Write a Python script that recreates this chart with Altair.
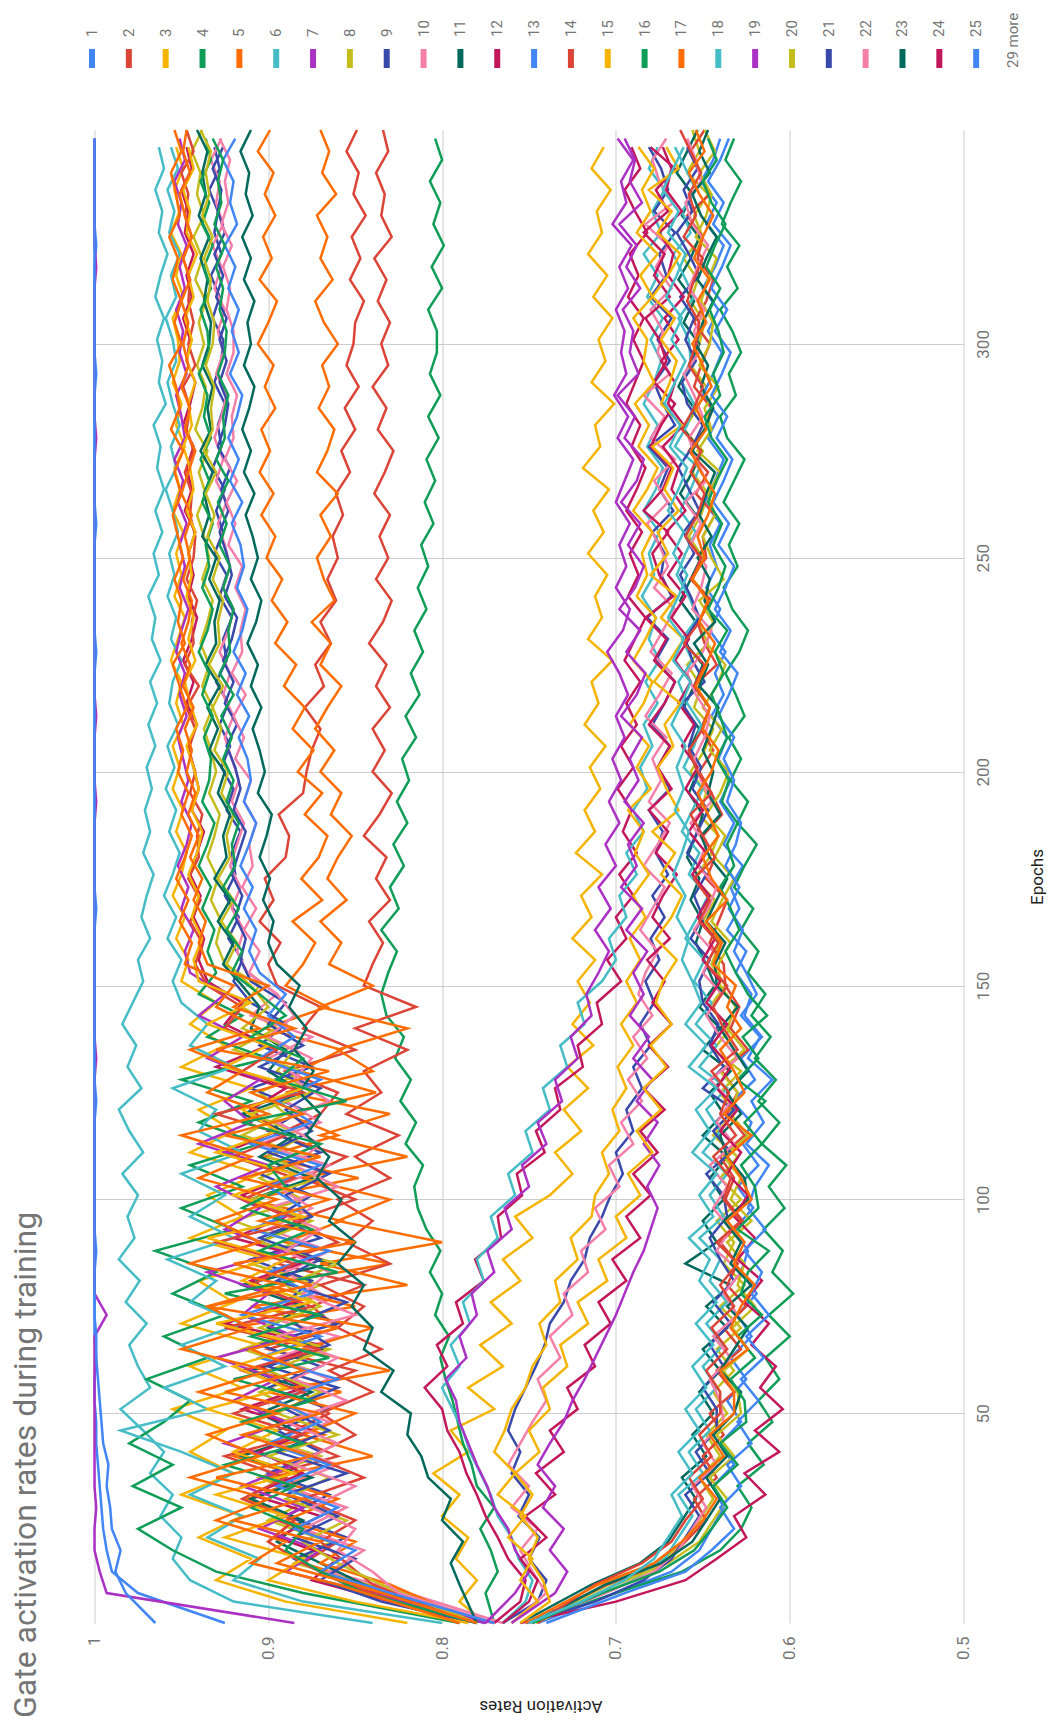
import altair as alt
import pandas as pd

TITLE = "Gate activation rates during training"
X_TITLE = "Activation Rates"
Y_TITLE = "Epochs"
PALETTE = ["#4285F4", "#DB4437", "#F4B400", "#0F9D58", "#FF6D00", "#46BDC6",
           "#AB30C4", "#C5BC1E", "#3949AB", "#F47FA8", "#00695C", "#C2185B"]
RATE_TICKS = [0.5, 0.6, 0.7, 0.8, 0.9, 1.0]
EPOCH_TICKS = [50, 100, 150, 200, 250, 300]
LEGEND_SHOWN = 25
MORE_LABEL = "29 more"

# sampling grid of the epochs (first point is epoch 1), shifted a little per series
BASE_EPOCHS = [1] + [1 + 5 * j for j in range(1, 70)]
GRID_SHIFT = [0, 2, 4]

# activation rates in thousandths (7 groups of 10 points)
S01 = "925 975 990 993 995 996 997 998 999 999 | 1000 1000 999 1000 1000 1000 1000 999 1000 1000 | 1000 1000 1000 1000 999 1000 1000 1000 1000 1000 | 1000 1000 1000 999 1000 1000 1000 1000 1000 1000 | 1000 1000 1000 1000 1000 999 1000 1000 1000 1000 | 1000 999 1000 1000 1000 1000 1000 1000 999 1000 | 1000 1000 1000 1000 999 1000 1000 1000 1000 1000"
S02 = "790 850 880 860 895 870 905 860 890 865 | 880 850 900 860 875 845 895 860 885 850 | 880 855 895 870 860 890 850 880 870 895 | 900 893 905 897 902 890 888 894 880 878 | 875 870 879 868 873 864 870 861 866 860 | 863 857 861 853 858 850 856 848 855 851 | 850 845 853 847 852 844 851 848 855 849"
S03 = "775 790 780 792 785 800 790 805 785 795 | 770 785 765 778 760 772 755 765 748 758 | 738 725 735 720 730 716 728 713 725 715 | 722 712 725 714 720 708 723 712 718 709 | 715 706 718 710 714 702 716 708 712 705 | 716 707 713 704 719 709 712 701 714 706 | 710 702 713 705 716 708 711 703 714 707"
S04 = "770 775 768 772 778 770 780 783 788 791 | 794 798 801 796 804 800 807 801 809 814 | 816 811 821 815 824 818 827 822 832 835 | 831 826 835 825 830 822 828 820 826 819 | 823 815 821 813 818 811 816 809 814 808 | 812 805 810 804 809 802 808 801 807 803 | 803 808 800 806 799 805 801 807 800 804"
S05 = "780 840 880 900 885 912 878 920 868 902 | 858 910 868 921 850 902 830 890 858 912 | 848 902 860 890 838 882 858 902 866 890 | 880 873 886 869 881 871 866 879 869 883 | 874 886 879 891 884 896 889 898 892 901 | 896 904 897 905 899 904 896 902 897 906 | 900 895 905 898 903 896 902 897 906 899"
S06 = "840 920 945 955 950 962 955 968 960 972 | 985 968 975 980 970 982 974 986 977 981 | 975 984 972 980 986 973 981 976 984 978 | 972 975 968 973 970 966 972 968 971 967 | 970 965 969 964 968 962 967 965 969 963 | 966 961 965 960 964 962 966 959 963 961 | 964 960 965 962 958 963 961 965 960 963"
S07 = "885 993 997 1000 1000 999 1000 1000 1000 1000 | 1000 1000 1000 1000 993 1000 1000 1000 1000 1000 | 1000 1000 1000 1000 1000 1000 999 1000 1000 1000 | 1000 1000 1000 1000 1000 1000 1000 1000 999 1000 | 1000 1000 999 1000 1000 1000 1000 1000 1000 1000 | 1000 1000 1000 1000 1000 999 1000 1000 1000 1000 | 1000 1000 1000 999 1000 1000 1000 1000 1000 1000"
S08 = "780 840 885 865 900 875 905 870 910 880 | 905 875 915 880 900 870 910 885 920 880 | 905 875 915 890 905 880 920 895 915 905 | 925 930 927 933 929 935 931 928 934 930 | 933 937 932 938 934 939 935 932 938 934 | 937 941 936 940 935 942 938 936 941 937 | 940 936 942 938 943 937 941 939 944 938"
S09 = "775 830 860 885 855 890 865 900 870 895 | 865 900 870 905 860 890 875 910 870 895 | 875 905 870 900 880 910 875 905 890 910 | 920 915 923 917 925 919 921 916 924 920 | 927 922 928 923 930 924 926 921 928 924 | 931 926 930 925 932 927 929 925 931 927 | 926 932 928 933 927 931 929 934 928 931"
S10 = "765 820 865 845 880 855 890 860 895 865 | 900 865 895 860 905 870 890 865 900 875 | 895 865 905 870 890 880 900 875 910 895 | 912 918 914 921 916 922 918 914 921 917 | 921 925 920 926 922 928 923 920 926 922 | 925 929 924 930 926 931 927 924 930 926 | 929 925 931 927 932 926 930 928 933 927"
S11 = "785 845 870 895 880 910 875 915 880 905 | 875 910 870 900 880 915 865 905 880 910 | 875 905 885 915 880 900 890 910 905 915 | 926 920 929 922 931 924 926 922 929 925 | 934 929 935 928 936 930 931 928 934 930 | 938 934 937 932 939 933 935 932 938 934 | 933 937 935 939 934 940 936 938 935 941"
S12 = "770 830 875 860 895 870 910 880 905 875 | 915 880 905 870 925 885 910 875 920 890 | 915 885 925 895 910 890 930 900 925 915 | 935 940 937 943 939 945 941 937 944 940 | 943 946 941 947 943 949 944 941 946 943 | 946 942 948 944 947 943 949 945 942 947 | 945 949 944 947 943 948 946 950 944 947"
S13 = "965 982 988 985 990 991 993 992 995 996 | 997 998 999 999 1000 1000 1000 1000 1000 1000 | 1000 1000 1000 1000 1000 1000 1000 1000 1000 1000 | 1000 1000 1000 1000 1000 1000 1000 1000 1000 1000 | 1000 1000 1000 1000 1000 1000 1000 1000 1000 1000 | 1000 1000 1000 1000 1000 1000 1000 1000 1000 1000 | 1000 1000 1000 1000 1000 1000 1000 1000 1000 1000"
S14 = "785 840 855 870 850 880 845 875 850 870 | 840 865 835 860 845 870 830 855 840 860 | 830 850 825 855 835 845 820 850 815 845 | 840 834 842 830 838 832 845 836 829 840 | 833 840 830 838 832 842 834 829 838 831 | 836 830 839 833 828 837 832 840 831 835 | 830 837 832 839 829 835 833 838 831 834"
S15 = "820 890 930 910 940 915 950 920 945 925 | 955 915 945 905 950 920 940 900 945 915 | 935 905 945 920 940 910 950 925 945 930 | 950 946 953 948 955 950 947 953 949 955 | 951 955 949 953 950 956 952 948 954 950 | 953 949 955 951 954 948 953 950 955 951 | 952 955 949 953 950 956 951 954 949 953"
S16 = "790 880 930 955 975 950 978 955 980 960 | 945 970 935 960 925 955 930 965 920 950 | 915 945 905 940 910 950 900 935 915 940 | 930 935 931 938 933 940 935 931 938 934 | 933 937 932 938 934 940 935 932 938 934 | 936 932 938 934 939 933 937 935 940 934 | 935 939 933 937 932 938 934 939 933 936"
S17 = "780 830 870 850 890 860 900 840 880 850 | 900 830 880 840 910 820 870 800 860 830 | 880 820 870 830 890 840 860 820 870 840 | 865 858 870 855 866 860 852 864 858 870 | 862 873 866 858 870 864 875 862 868 872 | 864 870 860 872 866 862 871 865 869 860 | 868 873 863 870 866 872 861 869 865 870"
S18 = "800 880 920 905 935 915 945 920 950 985 | 935 960 925 950 915 945 930 958 920 945 | 925 950 915 940 930 955 920 945 935 950 | 955 950 958 953 960 955 951 957 953 959 | 954 958 952 957 955 950 956 953 958 954 | 957 952 955 959 953 956 951 955 958 953 | 955 959 953 956 951 957 954 958 952 956"
S19 = "775 840 890 870 905 880 915 885 925 890 | 920 895 930 885 915 900 935 890 925 905 | 930 900 940 910 925 905 935 915 940 925 | 945 948 943 950 946 952 947 944 950 946 | 949 952 947 951 948 953 950 946 951 948 | 951 947 952 949 954 948 950 953 947 951 | 949 953 948 951 947 952 950 954 948 951"
S20 = "780 835 860 880 855 890 865 900 860 895 | 870 900 865 905 870 890 860 905 875 910 | 870 900 880 910 875 895 885 915 900 910 | 924 918 927 920 929 922 924 920 927 923 | 931 927 932 926 934 928 929 926 932 928 | 935 931 936 930 937 932 933 931 936 932 | 931 935 933 937 932 938 934 936 933 939"
S21 = "780 835 870 850 885 860 890 855 895 865 | 890 860 900 865 885 855 895 870 905 875 | 890 865 900 875 890 870 905 880 900 890 | 910 916 913 919 915 921 917 913 920 916 | 919 924 918 925 920 926 921 918 925 921 | 924 928 923 927 922 929 925 923 928 924 | 928 924 930 926 931 925 929 927 932 926"
S22 = "770 825 840 860 850 875 850 885 860 890 | 855 885 860 895 850 880 865 890 870 900 | 860 885 870 895 865 885 875 900 885 895 | 911 905 914 907 915 909 911 907 914 910 | 919 914 920 913 921 915 916 913 919 915 | 923 919 924 918 925 920 921 918 924 920 | 920 924 922 926 921 927 923 925 922 928"
S23 = "780 790 795 788 800 795 808 812 820 818 | 835 828 845 840 852 845 860 850 865 858 | 872 865 878 870 882 874 885 878 888 882 | 895 900 897 903 899 905 901 898 906 902 | 905 909 904 910 906 912 907 904 910 906 | 909 913 908 914 910 915 911 908 914 910 | 912 908 914 910 915 909 913 911 916 910"
S24 = "770 755 752 762 768 775 780 786 790 797 | 800 810 797 803 788 792 776 781 766 768 | 754 757 741 746 732 735 719 722 708 711 | 697 705 694 700 690 698 688 696 691 699 | 690 697 688 694 686 695 689 683 693 687 | 692 685 694 688 683 691 686 694 689 684 | 690 684 693 687 692 682 689 695 686 691"
S25 = "770 830 870 850 885 860 895 865 900 870 | 895 860 905 870 915 875 900 865 910 880 | 900 870 910 875 895 870 905 885 900 890 | 905 911 907 914 909 916 911 907 914 910 | 912 917 911 918 913 920 915 912 918 914 | 916 921 915 922 917 923 918 915 922 917 | 921 917 923 919 925 918 922 920 926 919"
S26 = "790 855 880 900 885 915 890 925 880 920 | 880 915 870 925 875 910 885 930 880 915 | 885 920 890 930 880 915 895 925 915 935 | 942 938 945 939 946 940 941 938 945 942 | 946 942 947 940 948 943 944 941 947 943 | 942 945 944 948 943 947 945 949 942 946 | 943 946 945 949 944 948 946 950 943 947"
S27 = "785 850 900 880 925 890 930 885 920 895 | 935 890 920 880 930 875 915 890 935 880 | 920 885 930 895 915 880 925 900 935 910 | 940 943 938 944 940 946 941 938 944 940 | 943 947 941 945 948 942 946 943 947 944 | 946 942 947 943 945 949 944 946 942 947 | 944 948 943 946 941 947 945 949 943 946"
S28 = "780 845 870 890 880 910 885 925 880 915 | 875 920 865 910 870 925 860 905 875 915 | 890 900 870 915 855 895 880 910 890 905 | 921 915 924 917 926 919 921 917 924 920 | 926 921 927 920 928 922 923 920 926 922 | 928 924 929 923 930 925 926 923 929 925 | 924 928 926 930 925 931 927 929 926 932"
S29 = "790 860 910 890 930 900 945 905 935 895 | 940 900 950 910 935 890 945 905 930 895 | 940 910 950 900 935 915 945 905 930 920 | 948 944 951 946 953 948 944 950 946 952 | 949 953 947 951 955 948 952 950 954 949 | 952 955 950 954 949 956 951 953 957 950 | 954 950 955 952 957 951 953 956 950 954"
S30 = "765 752 748 756 760 768 772 778 784 788 | 794 800 790 795 784 788 776 780 768 772 | 758 762 748 752 738 742 728 732 718 722 | 708 700 704 694 698 688 694 684 690 682 | 686 679 684 676 683 675 681 677 685 678 | 681 675 684 677 673 682 676 684 678 674 | 680 673 682 676 684 674 679 672 681 676"
S31 = "775 758 750 758 762 770 774 780 785 790 | 792 798 786 790 780 783 770 774 760 764 | 750 754 740 745 731 735 722 726 714 717 | 710 704 712 703 710 700 706 698 704 697 | 702 695 700 693 698 705 696 692 700 694 | 698 692 700 695 690 699 693 701 694 697 | 695 700 693 698 691 702 694 697 690 699"
S32 = "748 704 676 660 652 644 652 640 648 636 | 644 632 642 628 640 626 638 632 642 628 | 640 630 644 632 640 628 644 634 646 637 | 645 640 650 643 655 646 641 652 648 657 | 649 644 655 651 659 647 653 645 656 650 | 658 651 647 656 650 661 653 648 657 652 | 649 657 653 661 650 655 647 659 652 656"
S33 = "765 745 740 750 744 756 750 760 755 762 | 758 752 746 741 738 730 726 718 715 708 | 703 696 700 690 694 685 690 680 686 678 | 683 675 680 672 679 670 677 673 681 669 | 676 669 679 672 666 677 670 682 668 674 | 672 679 667 675 670 681 666 673 678 669 | 676 668 680 671 675 666 678 670 674 681"
S34 = "760 740 748 755 745 760 750 762 755 748 | 740 745 732 738 725 730 716 720 706 712 | 698 704 690 697 685 693 682 690 679 687 | 683 676 686 679 672 684 676 669 681 674 | 679 671 683 675 668 680 673 666 678 670 | 675 682 670 678 666 680 672 684 669 676 | 673 680 668 677 670 683 667 675 679 671"
S35 = "755 714 686 670 662 654 662 648 656 644 | 652 640 650 636 648 634 660 642 650 638 | 646 636 650 638 646 634 650 640 652 643 | 648 654 650 657 652 659 654 650 658 653 | 658 652 661 655 650 660 654 663 657 651 | 660 654 663 656 651 661 655 664 658 652 | 661 655 664 657 652 662 656 665 659 653"
S36 = "765 750 745 755 740 752 735 746 730 738 | 722 728 712 718 703 710 694 702 686 694 | 680 690 676 686 672 684 670 681 668 679 | 672 682 669 679 673 665 677 670 681 668 | 676 669 681 672 666 678 671 683 667 675 | 679 670 684 673 668 680 674 666 678 671 | 675 683 669 678 672 684 670 677 666 680"
S37 = "745 700 668 652 645 638 644 632 640 628 | 636 625 634 622 630 619 628 624 632 621 | 630 618 627 622 633 620 628 616 626 622 | 631 625 636 629 634 627 638 632 640 634 | 641 636 645 638 643 637 646 640 648 642 | 646 640 649 643 638 647 641 650 644 639 | 647 641 650 643 638 648 642 651 644 640"
S38 = "750 705 672 660 648 655 642 650 638 646 | 632 642 628 638 625 636 630 640 627 637 | 632 640 626 636 630 639 624 634 629 637 | 638 646 641 636 648 643 650 639 645 652 | 644 651 646 655 642 649 653 645 657 648 | 650 643 654 647 658 649 645 655 651 646 | 655 648 644 653 650 659 646 652 657 649"
S39 = "760 745 755 748 762 752 768 758 770 764 | 760 752 748 740 744 732 735 722 726 714 | 712 704 708 698 702 694 699 690 697 688 | 694 686 692 683 690 681 689 684 693 680 | 688 681 692 684 679 690 683 677 688 682 | 685 679 690 682 676 687 681 689 678 684 | 682 690 679 686 676 688 680 685 678 687"
S40 = "750 700 662 640 628 622 630 615 624 610 | 618 606 614 600 612 598 610 604 615 603 | 612 602 616 606 618 608 620 611 622 614 | 624 618 628 621 632 626 619 630 624 634 | 628 635 626 631 637 629 624 633 638 630 | 635 629 638 632 626 636 640 631 635 628 | 633 640 630 636 629 639 634 628 637 632"
S41 = "780 850 895 870 920 880 930 875 915 870 | 925 880 910 860 935 875 920 850 905 865 | 915 870 925 880 910 865 930 885 920 900 | 935 940 936 943 938 945 940 946 942 947 | 944 948 943 949 945 950 946 944 949 945 | 948 944 950 946 942 948 945 950 946 949 | 946 950 945 949 944 948 951 945 949 947"
S42 = "755 718 690 672 664 656 664 650 658 646 | 654 642 650 638 648 636 646 640 652 638 | 646 636 650 640 648 636 652 642 654 645 | 655 649 660 653 647 658 652 662 656 650 | 661 655 651 659 664 656 662 653 658 665 | 660 654 663 657 652 666 659 655 662 657 | 658 664 655 661 667 657 662 654 660 666"
S43 = "760 735 728 738 730 742 735 745 738 730 | 725 718 712 706 700 695 690 684 680 676 | 682 675 684 676 688 679 690 681 692 684 | 690 682 694 685 697 688 693 684 695 687 | 692 685 697 688 683 694 686 698 689 684 | 693 686 697 688 684 695 689 699 687 692 | 690 696 686 694 688 698 685 692 689 695"
S44 = "746 700 670 652 644 636 646 632 642 628 | 630 638 624 633 620 630 626 636 622 634 | 628 638 624 634 630 640 626 636 631 640 | 641 634 645 639 632 643 637 648 640 635 | 646 639 650 642 637 648 644 652 638 645 | 650 643 647 640 653 645 649 641 652 646 | 644 651 647 642 654 648 645 652 643 649"
S45 = "752 712 684 668 660 652 660 646 654 642 | 642 650 638 646 634 644 632 640 646 636 | 638 648 634 644 632 650 638 646 641 650 | 652 646 657 650 655 648 659 653 647 656 | 651 658 654 662 649 656 660 652 657 663 | 655 661 652 658 664 656 650 659 662 654 | 660 655 663 652 658 665 656 661 653 659"
S46 = "750 706 678 664 656 648 656 642 650 638 | 640 646 634 644 630 638 628 642 634 644 | 636 646 632 642 634 646 630 640 648 639 | 650 644 655 647 642 653 648 657 645 651 | 655 649 646 654 659 650 645 656 651 648 | 657 651 660 648 654 658 650 655 661 652 | 655 649 658 653 647 656 660 651 654 659"
S47 = "748 706 674 656 648 640 648 636 644 632 | 628 640 632 624 636 622 634 628 638 624 | 626 636 640 628 636 624 632 640 630 642 | 643 637 648 642 636 646 651 640 647 644 | 650 645 641 652 647 655 643 649 646 653 | 645 652 648 643 656 649 644 651 647 654 | 650 644 653 648 642 651 656 646 652 647"
S48 = "755 700 660 642 625 632 614 626 606 620 | 604 617 608 622 612 626 616 630 620 632 | 624 636 628 640 630 642 634 645 636 648 | 640 650 643 653 646 656 648 658 650 660 | 653 662 655 664 657 666 658 668 660 670 | 662 671 660 668 664 673 661 670 666 674 | 664 672 661 670 667 675 662 671 668 673"
S49 = "740 695 660 645 632 640 628 636 622 630 | 618 628 615 625 612 622 616 626 614 624 | 620 612 625 615 622 610 624 617 628 619 | 625 632 627 635 629 637 631 628 636 632 | 638 632 641 635 630 640 634 643 637 632 | 641 635 644 638 633 642 636 645 639 634 | 643 636 645 639 634 644 638 647 640 635"
S50 = "745 712 685 668 660 650 658 645 652 640 | 640 648 636 645 632 640 630 642 628 638 | 634 644 631 640 635 645 630 638 644 636 | 648 641 652 646 655 643 650 657 645 653 | 658 650 646 655 649 661 652 647 656 651 | 660 653 649 657 651 662 655 650 658 654 | 652 659 655 650 661 654 658 651 657 663"
S51 = "755 738 742 750 745 755 748 758 744 750 | 738 742 728 732 716 722 705 710 694 700 | 686 693 679 688 674 684 671 680 668 677 | 673 665 677 668 662 674 666 679 664 671 | 676 667 672 663 678 669 661 674 665 680 | 670 676 664 672 667 679 662 674 669 665 | 674 666 679 670 663 676 668 681 664 671"
S52 = "748 708 675 655 645 636 644 630 640 625 | 626 634 620 630 616 628 624 612 630 618 | 620 628 616 626 614 630 618 627 613 624 | 631 637 629 634 640 632 636 630 639 635 | 642 636 640 645 638 643 636 647 641 637 | 644 639 647 642 636 645 649 640 644 638 | 641 646 640 648 643 637 645 650 642 647"
S53 = "752 710 678 662 650 642 652 638 646 632 | 632 640 624 634 628 620 632 626 636 622 | 628 636 622 638 626 632 640 628 636 631 | 644 639 648 636 645 650 641 647 653 645 | 641 650 646 654 648 643 652 647 656 649 | 653 647 643 651 657 648 654 645 650 656 | 648 653 646 655 650 644 652 658 649 654"
S54 = "750 720 695 678 670 662 668 656 664 652 | 660 648 656 644 654 642 652 646 658 644 | 652 642 656 646 654 642 658 648 660 651 | 656 662 658 665 660 667 662 658 666 661 | 665 660 668 662 657 667 661 670 664 659 | 667 661 670 664 659 669 663 672 666 660 | 668 662 671 665 660 670 664 673 667 661"

SERIES = [S01, S02, S03, S04, S05, S06, S07, S08, S09, S10, S11, S12, S13, S14, S15, S16, S17, S18,
          S19, S20, S21, S22, S23, S24, S25, S26, S27, S28, S29, S30, S31, S32, S33, S34, S35, S36,
          S37, S38, S39, S40, S41, S42, S43, S44, S45, S46, S47, S48, S49, S50, S51, S52, S53, S54]

NAMES = [str(i) for i in range(1, len(SERIES) + 1)]
COLORS = [PALETTE[(i - 1) % len(PALETTE)] for i in range(1, len(SERIES) + 1)]

rows = []
bad = []
for i, txt in enumerate(SERIES, start=1):
    vals = [int(v) / 1000 for v in txt.replace("|", " ").split()]
    if len(vals) != len(BASE_EPOCHS):
        bad.append((i, len(vals)))
    shift = GRID_SHIFT[i % 3]
    epochs = [BASE_EPOCHS[0]] + [e + shift for e in BASE_EPOCHS[1:]]
    for e, v in zip(epochs, vals):
        rows.append({"series": str(i), "epoch": e, "rate": v})
if bad:
    raise SystemExit(f"bad series lengths: {bad}")
df = pd.DataFrame(rows)

FONT = "Roboto"
PLOT_W, PLOT_H = 869, 1493

color_scale = alt.Scale(domain=NAMES, range=COLORS)

lines = alt.Chart(df).mark_line(strokeWidth=2.5).encode(
    x=alt.X("rate:Q",
            scale=alt.Scale(domain=[0.5, 1.0], reverse=True, nice=False, zero=False),
            axis=alt.Axis(values=RATE_TICKS, format=".1~f", labelAngle=270, labelAlign="right",
                          labelBaseline="middle", labelPadding=13, labelFontSize=17, labelFont=FONT,
                          labelColor="#757575", labelFlush=False, labelOverlap=False,
                          grid=True, gridColor="#CCCCCC", gridWidth=1, domain=False, ticks=False,
                          title=X_TITLE, titleAngle=180, titleX=446, titleY=82, titleAlign="center",
                          titleBaseline="middle", titleFont=FONT, titleFontSize=17,
                          titleFontWeight="normal", titleColor="#222222")),
    y=alt.Y("epoch:Q",
            scale=alt.Scale(domain=[1, 350], nice=False, zero=False),
            axis=alt.Axis(orient="right", values=EPOCH_TICKS, labelAngle=270, labelAlign="center",
                          labelBaseline="top", labelPadding=12, labelFontSize=17, labelFont=FONT,
                          labelColor="#757575", labelFlush=False, labelOverlap=False,
                          grid=True, gridColor="#CCCCCC", gridWidth=1, domain=False, ticks=False,
                          title=Y_TITLE, titleAngle=270, titleX=74, titleY=PLOT_H / 2,
                          titleAlign="center", titleBaseline="middle", titleFont=FONT,
                          titleFontSize=17, titleFontWeight="normal", titleColor="#222222")),
    color=alt.Color("series:N", scale=color_scale, legend=None),
    order=alt.Order("epoch:Q"),
)

LEGEND_ITEMS = NAMES[:LEGEND_SHOWN] + [MORE_LABEL]
leg_x = alt.X("item:N", scale=alt.Scale(type="point", domain=LEGEND_ITEMS, range=[-2.5, 918.5], padding=0),
              axis=None)
leg_df = pd.DataFrame({"item": NAMES[:LEGEND_SHOWN], "series": NAMES[:LEGEND_SHOWN]})

leg_sym = alt.Chart(leg_df).mark_rule(strokeWidth=6).encode(
    x=leg_x, y=alt.value(-81), y2=alt.value(-62),
    color=alt.Color("series:N", scale=color_scale, legend=None),
)
leg_lab = alt.Chart(leg_df).mark_text(angle=270, align="left", baseline="middle", fontSize=15,
                                      font=FONT, color="#757575").encode(
    x=leg_x, y=alt.value(-93), text="item:N",
)
leg_more = alt.Chart(pd.DataFrame({"item": [MORE_LABEL]})).mark_text(
    angle=270, align="left", baseline="middle", fontSize=15, font=FONT, color="#757575").encode(
    x=leg_x, y=alt.value(-62), text="item:N",
)

chart = alt.layer(lines, leg_sym, leg_lab, leg_more).resolve_scale(x="independent").properties(
    width=PLOT_W, height=PLOT_H,
    title=alt.TitleParams(TITLE, orient="left", anchor="start", frame="group", fontSize=32, font=FONT,
                          fontWeight="normal", color="#757575", offset=42, dx=-95),
    autosize=alt.AutoSizeParams(type="none"),
    padding={"left": 94.5, "top": 130, "right": 91.5, "bottom": 108},
    background="white",
).configure_view(strokeWidth=0)

chart.save("out.html", embed_options={"renderer": "svg", "actions": False})
